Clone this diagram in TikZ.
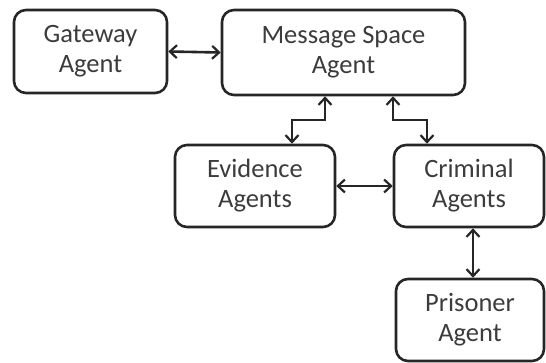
\documentclass[tikz,border=0pt]{standalone}
\usepackage{fontspec}
\setmainfont{Carlito}
\usetikzlibrary{arrows.meta}
\definecolor{txt}{HTML}{3C3C3C}
\begin{document}
\begin{tikzpicture}[x=1pt,y=-1pt,
  agent/.style={draw=black!85, line width=2.6pt, rounded corners=12pt, align=center,
    text=txt, font=\fontsize{26.5}{30}\selectfont, inner sep=0pt},
  link/.style={line width=2.6pt, draw=black!85, {Straight Barb[length=7pt,width=13pt,line width=2.2pt]}-{Straight Barb[length=7pt,width=13pt,line width=2.2pt]}}]
\useasboundingbox (0,0) rectangle (546,362);
\node[agent, minimum width=153pt, minimum height=83pt] (gw) at (90.5,51.5) {Gateway\\Agent};
\node[agent, minimum width=243pt, minimum height=85pt] (msa) at (343.5,52.5) {Message Space\\Agent};
\node[agent, minimum width=160pt, minimum height=82pt] (ev) at (255,186) {Evidence\\Agents};
\node[agent, minimum width=150pt, minimum height=82pt] (cr) at (469,186) {Criminal\\Agents};
\node[agent, minimum width=148pt, minimum height=82pt] (pr) at (470,320) {Prisoner\\Agent};
\draw[link] (gw.east) -- (msa.west);
\draw[link] (ev.east) -- (cr.east -| cr.west);
\draw[link] (msa.south -| 325,0) -- (325,120) -- (292,120) -- (ev.north -| 292,0);
\draw[link] (msa.south -| 393,0) -- (393,120) -- (427,120) -- (cr.north -| 427,0);
\draw[link] (cr.south -| 473,0) -- (pr.north -| 473,0);
\end{tikzpicture}
\end{document}
